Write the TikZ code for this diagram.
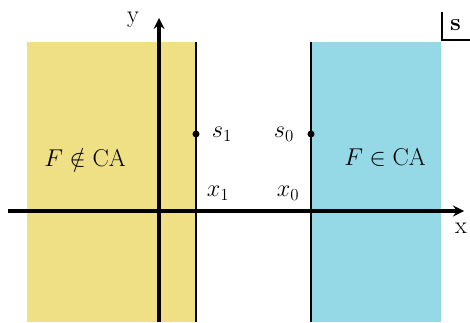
\documentclass[tikz,border=0pt]{standalone}
\usepackage{xcolor}
\usepackage{amsmath,amssymb}
\usepackage{tikz}
\usetikzlibrary{arrows, positioning, calc}

\definecolor{regionyellow}{HTML}{EFDF85}
\definecolor{regionblue}{HTML}{95D8E6}

\begin{document}
\begin{tikzpicture}[
    axis/.style={line width=2.4pt, -stealth},
    bound/.style={line width=1.3pt},
    lbl/.style={font=\LARGE},
    pt/.style={circle, fill=black, inner sep=0pt, minimum size=5pt}
]
\useasboundingbox (0,0) rectangle (11.75,8.05);

% regions
\fill[regionyellow] (0.675,0) rectangle (4.9,7.0);
\fill[regionblue]   (7.775,0) rectangle (11.025,7.0);

% boundaries
\coordinate (b1bot) at (4.9,0);
\coordinate (b1top) at (4.9,7.0);
\coordinate (b0bot) at (7.775,0);
\coordinate (b0top) at (7.775,7.0);
\draw[bound] (b1bot) -- (b1top);
\draw[bound] (b0bot) -- (b0top);

% axes
\coordinate (xstart) at (0.2,2.775);
\coordinate (xend)   at (11.6,2.775);
\coordinate (ystart) at (3.975,0);
\coordinate (yend)   at (3.975,7.6);
\draw[axis] (xstart) -- (xend);
\draw[axis] (ystart) -- (yend);
\node[lbl] (ylab) at (3.325,7.55) {y};
\node[lbl] (xlab) at (11.525,2.35) {x};

% points on the boundaries
\node[pt] (s1pt) at (4.9,4.7) {};
\node[pt] (s0pt) at (7.775,4.7) {};
\node[lbl] (s1) at (5.55,4.7) {$s_1$};
\node[lbl] (s0) at (7.1,4.7) {$s_0$};
\node[lbl] (x1) at (5.45,3.225) {$x_1$};
\node[lbl] (x0) at (7.2,3.225) {$x_0$};

% region labels
\node[lbl] (notca) at (2.125,4.1) {$F \notin \mathrm{CA}$};
\node[lbl] (inca)  at (9.625,4.1) {$F \in \mathrm{CA}$};

% corner label
\coordinate (ctop)   at (11.05,7.75);
\coordinate (ccorn)  at (11.05,7.05);
\coordinate (cright) at (11.75,7.05);
\draw[line width=1pt] (ctop) -- (ccorn) -- (cright);
\node[lbl] (slab) at (11.39,7.42) {$\mathbf{s}$};
\end{tikzpicture}
\end{document}
